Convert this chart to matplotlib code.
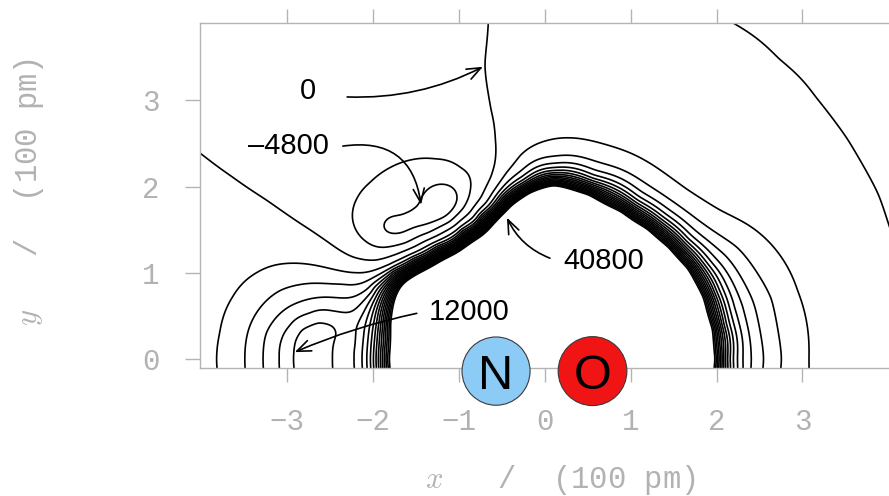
import numpy as np
import matplotlib
matplotlib.use("Agg")
import matplotlib.pyplot as plt
from matplotlib.patches import Circle

plt.rcParams['font.family'] = ['Liberation Sans', 'DejaVu Sans']
plt.rcParams['mathtext.fontset'] = 'cm'

# ---------------- data (positions in units of 100 pm) ----------------
levels = [-4800, -2400, 0, 2400, 4800, 7200, 9600, 12000, 14400, 16800, 19200,
          21600, 24000, 26400, 28800, 31200, 33600, 36000, 38400, 40800]

# points read on individual contour lines of the picture
lv_m4800_x = [-1.70, -1.60, -1.49, -1.42, -1.44, -1.54, -1.63]
lv_m4800_y = [1.62, 1.70, 1.77, 1.79, 1.74, 1.68, 1.63]

lv_m2400_x = [-2.23, -2.20, -2.08, -1.88, -1.62, -1.35, -1.10, -0.95, -0.88, -0.99, -1.27, -1.55, -1.80, -2.03, -2.18]
lv_m2400_y = [1.73, 1.50, 1.37, 1.29, 1.33, 1.45, 1.58, 1.74, 1.95, 2.19, 2.31, 2.31, 2.22, 2.04, 1.86]

lv_0_x = [-4.30, -4.01, -3.63, -3.23, -2.86, -2.51, -2.24, -1.96, -1.72, -1.50, -1.25, -1.02, -0.86, -0.74,
          -0.62, -0.58, -0.58, -0.63, -0.70, -0.66, -0.64,
          1.83, 2.17, 2.72, 3.15, 3.52, 3.89, 4.01, 4.26, 4.38]
lv_0_y = [2.58, 2.39, 2.11, 1.84, 1.58, 1.35, 1.18, 1.14, 1.21, 1.30, 1.42, 1.55, 1.70, 1.86,
          2.10, 2.25, 2.54, 2.89, 3.41, 3.89, 4.10,
          4.11, 3.91, 3.48, 3.04, 2.56, 1.90, 1.54, 0.75, 0.00]

lv_2400_x = [3.07, 2.94, 2.51, 2.05, 1.65, 1.29, 0.67, 0.13, -0.29, -0.45, -0.57, -0.68, -0.82, -1.02,
             -1.27, -1.52, -1.80, -2.19, -2.58, -2.96, -3.35, -3.63, -3.78, -3.82]
lv_2400_y = [0.00, 0.79, 1.45, 1.72, 1.97, 2.23, 2.50, 2.56, 2.37, 2.17, 1.98, 1.80, 1.63, 1.48,
             1.35, 1.22, 1.08, 1.01, 1.07, 1.11, 1.00, 0.72, 0.30, 0.00]

lv_4800_x = [2.76, 2.64, 2.24, 1.86, 1.52, 1.18, 0.61, 0.12, -0.27, -3.49, -3.46, -3.31, -3.08, -2.73, -2.35, -2.02]
lv_4800_y = [0.00, 0.71, 1.30, 1.56, 1.81, 2.04, 2.29, 2.35, 2.18, 0.00, 0.30, 0.60, 0.80, 0.88, 0.88, 0.93]

lv_7200_x = [2.55, 2.43, 2.10, 1.77, 1.45, 1.12, 0.59, 0.12, -0.26, -3.28, -3.25, -3.12, -2.88, -2.54, -2.23, -2.03]
lv_7200_y = [0.00, 0.65, 1.21, 1.48, 1.73, 1.94, 2.19, 2.27, 2.12, 0.00, 0.30, 0.49, 0.65, 0.72, 0.72, 0.80]

lv_9600_x = [2.41, 2.31, 2.00, 1.71, 1.41, 1.09, 0.57, 0.12, -0.25, -3.08, -3.06, -2.96, -2.73, -2.47, -2.23]
lv_9600_y = [0.00, 0.62, 1.16, 1.43, 1.68, 1.89, 2.13, 2.22, 2.07, 0.00, 0.22, 0.37, 0.51, 0.55, 0.55]

lv_12000_x = [2.30, 2.20, 1.93, 1.66, 1.38, 1.07, 0.56, 0.11, -0.25, -0.50, -0.74, -0.97, -1.25, -1.51,
              -1.76, -1.98, -2.10, -2.18, -2.22,
              -2.93, -2.91, -2.85, -2.65, -2.45, -2.34, -2.32]
lv_12000_y = [0.00, 0.59, 1.12, 1.39, 1.64, 1.84, 2.09, 2.18, 2.04, 1.88, 1.66, 1.49, 1.31, 1.17,
              1.03, 0.82, 0.55, 0.28, 0.00,
              0.00, 0.22, 0.36, 0.46, 0.42, 0.28, 0.00]

lv_19200_x = [2.14, 2.10, 1.99, 1.80, 1.57, 1.30, 1.00, 0.56, 0.11, -0.25, -0.48, -0.72, -0.95, -1.23,
              -1.49, -1.72, -1.88, -1.98, -2.03]
lv_19200_y = [0.00, 0.40, 0.78, 1.12, 1.38, 1.60, 1.80, 2.02, 2.12, 1.99, 1.80, 1.60, 1.42, 1.24,
              1.10, 0.97, 0.76, 0.45, 0.00]

lv_40800_x = [2.00, 1.97, 1.86, 1.68, 1.45, 1.20, 0.90, 0.52, 0.10, -0.18, -0.40, -0.52, -0.64, -0.88,
              -1.17, -1.42, -1.64, -1.75, -1.80, -1.82]
lv_40800_y = [0.00, 0.35, 0.72, 1.05, 1.30, 1.52, 1.72, 1.92, 2.03, 1.94, 1.78, 1.66, 1.50, 1.32,
              1.15, 1.01, 0.88, 0.68, 0.42, 0.00]

# estimated values away from the drawn lines
spot_x = [-1.59, -1.51, -2.63, -2.63, -2.27, -2.28,
          0.00, 0.00, -0.90, 0.90, -1.35, 1.45, 0.45, -0.40, -1.15, 1.15, 1.55, -1.45,
          -3.50, -2.50, -1.50, -1.00, -3.00, -2.00, -3.90, -0.95,
          0.30, 1.30, 2.20, 4.05,
          -4.05, -3.95]
spot_y = [1.68, 1.73, 0.00, 0.25, 0.00, 0.20,
          0.00, 1.20, 0.50, 0.60, 0.30, 0.40, 1.45, 1.25, 0.80, 1.05, 0.00, 0.00,
          3.50, 3.20, 3.30, 3.00, 2.60, 2.70, 3.80, 3.80,
          3.50, 3.30, 2.90, 3.95,
          0.00, 1.20]
spot_v = [-4950, -4950, 13000, 12700, 10800, 10600,
          150000, 120000, 120000, 120000, 90000, 90000, 80000, 80000, 90000, 90000, 80000, 80000,
          -900, -1200, -1000, -650, -1100, -1500, -700, -450,
          1200, 1150, 1050, -300,
          1500, 1000]

# atoms
atom_names = ['N', 'O']
atom_x = [-0.567, 0.556]
atom_y = [-0.14, -0.14]
atom_r = [0.396, 0.40]
atom_colors = ['#8ccbf5', '#f01414']

# ---------------- build the surface ----------------
line_sets = [
    (lv_m4800_x, lv_m4800_y, -4800), (lv_m2400_x, lv_m2400_y, -2400), (lv_0_x, lv_0_y, 0),
    (lv_2400_x, lv_2400_y, 2400), (lv_4800_x, lv_4800_y, 4800), (lv_7200_x, lv_7200_y, 7200),
    (lv_9600_x, lv_9600_y, 9600), (lv_12000_x, lv_12000_y, 12000), (lv_19200_x, lv_19200_y, 19200),
    (lv_40800_x, lv_40800_y, 40800),
]
px, py, pv = [], [], []
for xs, ys, v in line_sets:
    px += list(xs); py += list(ys); pv += [v] * len(xs)
px += spot_x; py += spot_y; pv += spot_v
px = np.array(px, float); py = np.array(py, float); pv = np.array(pv, float)
m = py > 0.01  # the molecule axis is a mirror line
px = np.concatenate([px, px[m]]); py = np.concatenate([py, -py[m]]); pv = np.concatenate([pv, pv[m]])
S = 2400.0
pt = np.arcsinh(pv / S)


def kern(r2):
    with np.errstate(divide='ignore', invalid='ignore'):
        return np.where(r2 > 0, 0.5 * r2 * np.log(np.where(r2 > 0, r2, 1.0)), 0.0)


n = px.size
K = kern((px[:, None] - px[None, :]) ** 2 + (py[:, None] - py[None, :]) ** 2)
K[np.diag_indices(n)] += 0.03
P = np.column_stack([np.ones(n), px, py])
A = np.zeros((n + 3, n + 3))
A[:n, :n] = K; A[:n, n:] = P; A[n:, :n] = P.T
sol = np.linalg.solve(A, np.concatenate([pt, np.zeros(3)]))
w, a = sol[:n], sol[n:]

gx = np.linspace(-4.03, 4.03, 600)
gy = np.linspace(-0.12, 3.92, 300)
GX, GY = np.meshgrid(gx, gy)
fx, fy = GX.ravel(), GY.ravel()
T = np.empty(fx.size)
for s in range(0, fx.size, 5000):
    ex = fx[s:s + 5000, None] - px[None, :]
    ey = fy[s:s + 5000, None] - py[None, :]
    T[s:s + 5000] = kern(ex * ex + ey * ey) @ w + a[0] + a[1] * fx[s:s + 5000] + a[2] * fy[s:s + 5000]
V = S * np.sinh(T.reshape(GX.shape))

# ---------------- figure ----------------
W, H = 889, 496
fig = plt.figure(figsize=(W / 100, H / 100), dpi=100)
ax = fig.add_axes([200 / W, (H - 368) / H, 689 / W, 345 / H])
ax.set_xlim(-4.013, 4.007)
ax.set_ylim(-0.104, 3.898)

ax.contour(GX, GY, V, levels=levels, colors='k', linewidths=1.2, linestyles='solid',
           negative_linestyles='solid')

grey_axis = '#b4b4b4'
grey_text = '#b2b2b2'
for side in ['left', 'top', 'bottom']:
    ax.spines[side].set_color(grey_axis)
    ax.spines[side].set_linewidth(1.0)
ax.spines['right'].set_visible(False)

ax.set_xticks([-3, -2, -1, 0, 1, 2, 3])
ax.set_yticks([0, 1, 2, 3])
ax.tick_params(axis='x', direction='out', top=True, bottom=True, labeltop=False,
               length=10, width=1, color=grey_axis, labelcolor=grey_text, pad=19, labelsize=21)
ax.tick_params(axis='y', direction='out', left=True, right=False, length=11, width=1,
               color=grey_axis, labelcolor=grey_text, pad=18, labelsize=21)
for lab in ax.get_xticklabels() + ax.get_yticklabels():
    lab.set_fontfamily(['Liberation Mono', 'DejaVu Sans Mono'])

fig.text(560 / W, (H - 480) / H, r'$x$   /  (100 pm)', ha='center', va='center', fontsize=22,
         color=grey_text, family=['Liberation Mono', 'DejaVu Sans Mono'])
fig.text(29 / W, (H - 192) / H, r'$y$   /  (100 pm)', ha='center', va='center', fontsize=22,
         color=grey_text, rotation=90, family=['Liberation Mono', 'DejaVu Sans Mono'])

# labels and arrows
lab_fs = 21
ax.text(-2.76, 3.11, '0', ha='center', va='center', fontsize=lab_fs)
ax.text(-2.98, 2.47, '\u20134800', ha='center', va='center', fontsize=lab_fs)
ax.text(0.69, 1.14, '40800', ha='center', va='center', fontsize=lab_fs)
ax.text(-0.88, 0.545, '12000', ha='center', va='center', fontsize=lab_fs)

arrows = [
    ((-2.30, 3.04), (-0.72, 3.39), 0.13),
    ((-2.35, 2.47), (-1.44, 1.79), -0.5),
    ((0.06, 1.17), (-0.44, 1.64), -0.2),
    ((-1.49, 0.53), (-2.91, 0.08), 0.05),
]
for start, end, rad in arrows:
    ax.annotate('', xy=end, xytext=start,
                arrowprops=dict(arrowstyle='->,head_length=0.5,head_width=0.2',
                                connectionstyle='arc3,rad=%g' % rad, color='k', lw=1.2,
                                shrinkA=0, shrinkB=0, mutation_scale=20))

for name, x, y, r, c in zip(atom_names, atom_x, atom_y, atom_r, atom_colors):
    ax.add_patch(Circle((x, y), r, facecolor=c, edgecolor='#3a3a3a', lw=0.8,
                        clip_on=False, zorder=5))
    ax.text(x, y, name, ha='center', va='center_baseline', fontsize=35, zorder=6, clip_on=False)

fig.savefig('out.png', dpi=100)
